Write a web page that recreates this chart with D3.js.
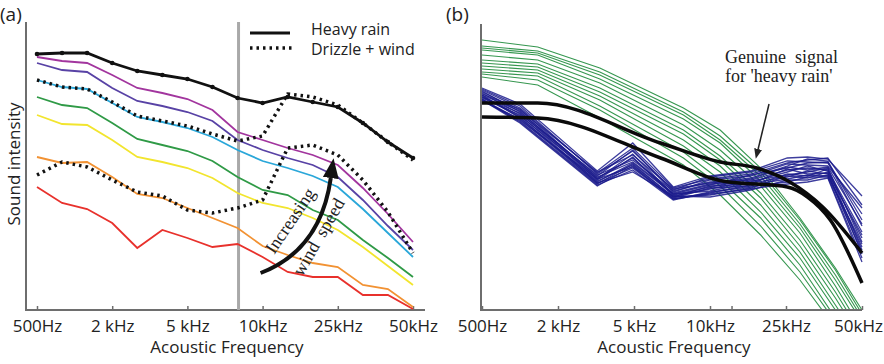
<!DOCTYPE html>
<html>
<head>
<meta charset="utf-8">
<script src="https://cdn.jsdelivr.net/npm/d3@7"></script>
<style>
  body { margin: 0; background: #fff; }
  text { font-family: 'Open Sans', sans-serif; fill: #222; }
  .serif { font-family: 'Liberation Serif', 'DejaVu Serif', serif; }
</style>
</head>
<body>
<svg id="chart" width="884" height="364"></svg>
<script>
// ---- data ----
// frequency bands are indexed 0..15; labelled ticks sit on every third band
const tickBands = [0, 3, 6, 9, 12, 15];
const tickLabels = ['500Hz', '2 kHz', '5 kHz', '10kHz', '25kHz', '50kHz'];

// panel (a): one value per band
const heavyRain   = [256, 257, 257, 247, 239, 235, 231, 223, 212, 207, 213, 208, 203, 187, 168, 152];
const drizzleHigh = [230, 223, 221, 208, 194, 189, 184, 176, 169, 174, 216, 213, 205, 187, 168, 150];
const drizzleLow  = [135, 148, 143, 130, 118, 114, 100, 97, 102, 110, 162, 165, 155, 130, 98, 57];
const windPurple  = [253, 249, 247, 235, 222, 217, 211, 200, 178, 170, 162, 155, 145, 122, 96, 68];
const windIndigo  = [247, 240, 238, 222, 209, 204, 198, 189, 170, 160, 152, 145, 133, 110, 84, 60];
const windCyan    = [230, 223, 221, 207, 193, 188, 182, 173, 160, 149, 142, 134, 123, 101, 77, 53];
const windGreen   = [213, 205, 202, 187, 171, 165, 159, 149, 133, 120, 115, 100, 90, 70, 52, 33];
const windYellow  = [195, 186, 185, 170, 153, 148, 142, 132, 117, 107, 102, 92, 80, 63, 44, 25];
const windOrange  = [153, 147, 148, 133, 116, 112, 102, 92, 82, 64, 55, 47, 43, 25, 21, 3];
const windRed     = [123, 107, 101, 87, 62, 80, 72, 63, 66, 53, 38, 33, 33, 15, 15, 1];
const cutoffBand = 8.04;

// panel (b): runs sampled at their own band positions
const greenBands = [0, 2.2, 4.65, 7.95, 9.4, 11, 12.55, 13.95, 15];
const greenRuns = [
  [270, 263, 242, 202, 180, 142, 92, 42, 0],
  [264, 259, 238, 198, 174, 138, 90, 40, -4],
  [262, 257, 235, 195, 170, 134, 86, 35, -8],
  [260, 255, 231, 191, 167, 129, 82, 30, -12],
  [255, 250, 227, 185, 160, 124, 77, 24, -20],
  [250, 246, 222, 180, 154, 117, 70, 18, -25],
  [247, 243, 218, 176, 150, 112, 64, 12, -30],
  [244, 240, 214, 170, 144, 105, 58, 5, -35],
  [241, 237, 210, 164, 138, 98, 52, 0, -38],
  [238, 234, 204, 158, 130, 92, 45, -8, -42],
  [236, 230, 200, 152, 124, 84, 38, -12, -45],
  [233, 225, 192, 145, 115, 75, 30, -18, -48]
];
const blueBands = [0, 1.5, 4.55, 5.95, 7.55, 9, 10.6, 12.05, 12.85, 13.65, 15];
const blueRuns = [
  [222, 206, 139, 167, 123, 134, 139, 152, 153, 151, 114],
  [220, 202, 137, 162, 122, 131, 136, 147, 150, 152, 105],
  [221, 204, 136, 159, 120, 133, 138, 149, 148, 147, 96],
  [218, 200, 138, 155, 121, 127, 132, 144, 151, 149, 90],
  [219, 198, 134, 160, 118, 130, 134, 146, 145, 144, 102],
  [216, 201, 132, 152, 116, 125, 135, 142, 147, 148, 84],
  [217, 196, 135, 150, 119, 128, 130, 140, 142, 140, 78],
  [215, 199, 131, 156, 115, 123, 131, 143, 140, 143, 86],
  [214, 194, 133, 148, 117, 126, 128, 138, 144, 139, 72],
  [213, 197, 130, 153, 114, 121, 129, 135, 138, 142, 68],
  [215, 192, 129, 145, 113, 124, 126, 141, 136, 137, 75],
  [212, 195, 128, 147, 116, 119, 127, 133, 139, 136, 63],
  [211, 190, 131, 143, 112, 122, 124, 136, 134, 141, 60],
  [213, 193, 127, 142, 111, 117, 125, 131, 135, 134, 66],
  [210, 189, 126, 146, 113, 115, 122, 134, 132, 138, 56],
  [211, 188, 125, 140, 110, 118, 123, 128, 133, 133, 52],
  [209, 191, 127, 138, 114, 113, 120, 130, 130, 135, 58],
  [210, 187, 124, 144, 111, 116, 121, 126, 128, 132, 48]
];
const signalUpperBands = [0, 2.2, 7.05, 9.4, 10.85, 12.15, 13.45, 15];
const signalUpper = [207, 207, 167, 148, 142, 128, 103, 57];
const signalLowerBands = [0, 2.2, 7.05, 9.5, 12.05, 12.85, 13.75, 15];
const signalLower = [193, 192, 152, 129, 123, 113, 90, 27];

// ---- scales ----
const svg = d3.select('#chart');
const xA = d3.scaleLinear().domain([0, 15]).range([37, 413]);
const yA = d3.scaleLinear().domain([0, 288]).range([310, 22]);
const xB = d3.scaleLinear().domain([0, 15]).range([482, 862]);
const yB = d3.scaleLinear().domain([0, 288]).range([310, 22]);

function drawAxes(x, y0, x0, x1, yTop, ticks) {
  const g = svg.append('g').attr('transform', `translate(0,${y0})`);
  g.call(d3.axisBottom(x)
      .tickValues(ticks)
      .tickSize(-4)
      .tickPadding(10)
      .tickFormat(d => {
        const k = tickBands.indexOf(d);
        return k < 0 ? '' : tickLabels[k];
      }));
  g.select('.domain').remove();
  g.selectAll('.tick line').attr('stroke', '#6e6e6e').attr('stroke-width', 1.5);
  g.selectAll('.tick text').style('font-size', '17px').attr('fill', '#222');
  svg.append('path')
    .attr('d', `M${x0},${yTop}V${y0}H${x1}`)
    .attr('fill', 'none').attr('stroke', '#6e6e6e').attr('stroke-width', 2);
  return g;
}

// ---- panel (a) ----
drawAxes(xA, 310, 26, 425, 22, tickBands);

svg.append('line')
  .attr('x1', xA(cutoffBand)).attr('x2', xA(cutoffBand))
  .attr('y1', 22).attr('y2', 310)
  .attr('stroke', '#a9a9a9').attr('stroke-width', 3);

const lineA = d3.line().x((d, i) => xA(i)).y(d => yA(d));
const windLines = [
  [windRed, '#e8312c'], [windOrange, '#f29233'], [windYellow, '#f2e52e'],
  [windGreen, '#2f9a46'], [windCyan, '#2aa7d9'], [windIndigo, '#5842a5'],
  [windPurple, '#a2359e']
];
windLines.forEach(([vals, color]) => {
  svg.append('path').attr('d', lineA(vals))
    .attr('fill', 'none').attr('stroke', color).attr('stroke-width', 1.8);
});

[drizzleHigh, drizzleLow].forEach(vals => {
  svg.append('path').attr('d', lineA(vals))
    .attr('fill', 'none').attr('stroke', '#111').attr('stroke-width', 3.5)
    .attr('stroke-dasharray', '2.5,4');
});

svg.append('path').attr('d', lineA(heavyRain))
  .attr('fill', 'none').attr('stroke', '#111').attr('stroke-width', 2.8);
svg.append('g').selectAll('circle').data(heavyRain).join('circle')
  .attr('cx', (d, i) => xA(i)).attr('cy', d => yA(d)).attr('r', 2.3).attr('fill', '#111');

// legend
svg.append('line').attr('x1', 250).attr('x2', 290).attr('y1', 33).attr('y2', 33)
  .attr('stroke', '#111').attr('stroke-width', 3);
svg.append('line').attr('x1', 250).attr('x2', 294).attr('y1', 48).attr('y2', 48)
  .attr('stroke', '#111').attr('stroke-width', 3.5).attr('stroke-dasharray', '2.5,4');
svg.append('text').attr('x', 311).attr('y', 35).style('font-size', '16px').text('Heavy rain');
svg.append('text').attr('x', 311).attr('y', 55).style('font-size', '16px').text('Drizzle + wind');

// curved arrow "Increasing wind speed"
const defs = svg.append('defs');
defs.append('marker').attr('id', 'head')
  .attr('viewBox', '0 0 20 16').attr('refX', 0).attr('refY', 8)
  .attr('markerWidth', 20).attr('markerHeight', 16)
  .attr('markerUnits', 'userSpaceOnUse').attr('orient', 'auto')
  .append('path').attr('d', 'M0,0L20,8L0,16Z').attr('fill', '#111');
const arrowPath = d3.path();
arrowPath.moveTo(xA(8.92), yA(37));
arrowPath.quadraticCurveTo(xA(11.32), yA(60), xA(11.72), yA(132));
svg.append('path').attr('d', arrowPath.toString())
  .attr('fill', 'none').attr('stroke', '#111').attr('stroke-width', 4)
  .attr('marker-end', 'url(#head)');
svg.append('text').attr('class', 'serif')
  .attr('transform', `translate(${xA(10.3)},${yA(86)}) rotate(-56)`)
  .attr('text-anchor', 'middle').style('font-size', '18px').text('Increasing');
svg.append('text').attr('class', 'serif').attr('xml:space', 'preserve')
  .attr('transform', `translate(${xA(11.44)},${yA(70)}) rotate(-60)`)
  .attr('text-anchor', 'middle').style('font-size', '18px').text('wind  speed');

svg.append('text').attr('transform', 'translate(20,164) rotate(-90)')
  .attr('text-anchor', 'middle').style('font-size', '17px').text('Sound intensity');
svg.append('text').attr('x', 227).attr('y', 353).attr('text-anchor', 'middle')
  .style('font-size', '17px').text('Acoustic Frequency');
svg.append('text').attr('x', 0).attr('y', 21).style('font-size', '19px').text('(a)');

// ---- panel (b) ----
defs.append('clipPath').attr('id', 'clipB')
  .append('rect').attr('x', 481).attr('y', 20).attr('width', 383).attr('height', 290);
const plotB = svg.append('g').attr('clip-path', 'url(#clipB)');

const greenLine = d3.line().x((d, i) => xB(greenBands[i])).y(d => yB(d));
plotB.append('g').selectAll('path').data(greenRuns).join('path')
  .attr('d', greenLine).attr('fill', 'none')
  .attr('stroke', '#1f8b3c').attr('stroke-width', 1.1).attr('stroke-opacity', 0.9);

const blueLine = d3.line().x((d, i) => xB(blueBands[i])).y(d => yB(d));
plotB.append('g').selectAll('path').data(blueRuns).join('path')
  .attr('d', blueLine).attr('fill', 'none')
  .attr('stroke', '#1b1b8c').attr('stroke-width', 1.3).attr('stroke-opacity', 0.85);

const upperLine = d3.line().curve(d3.curveMonotoneX)
  .x((d, i) => xB(signalUpperBands[i])).y(d => yB(d));
const lowerLine = d3.line().curve(d3.curveMonotoneX)
  .x((d, i) => xB(signalLowerBands[i])).y(d => yB(d));
plotB.append('path').attr('d', upperLine(signalUpper))
  .attr('fill', 'none').attr('stroke', '#0a0a0a').attr('stroke-width', 3.5);
plotB.append('path').attr('d', lowerLine(signalLower))
  .attr('fill', 'none').attr('stroke', '#0a0a0a').attr('stroke-width', 3.5);

const axisB = drawAxes(xB, 310, 481, 862, 24, [0, 3, 6, 9, 9.85, 12, 15]);
axisB.selectAll('.tick text').filter(d => d === 15).attr('dx', -4);

// annotation
defs.append('marker').attr('id', 'smallHead')
  .attr('viewBox', '0 0 10 8').attr('refX', 0).attr('refY', 4)
  .attr('markerWidth', 10).attr('markerHeight', 8)
  .attr('markerUnits', 'userSpaceOnUse').attr('orient', 'auto')
  .append('path').attr('d', 'M0,0L10,4L0,8Z').attr('fill', '#222');
svg.append('line')
  .attr('x1', xB(11.33)).attr('y1', yB(206))
  .attr('x2', xB(10.9)).attr('y2', yB(161))
  .attr('stroke', '#222').attr('stroke-width', 1.5)
  .attr('marker-end', 'url(#smallHead)');
svg.append('text').attr('class', 'serif').attr('xml:space', 'preserve')
  .attr('x', 725).attr('y', 63).style('font-size', '18px').text('Genuine  signal');
svg.append('text').attr('class', 'serif')
  .attr('x', 725).attr('y', 82).style('font-size', '18px').text("for 'heavy rain'");

svg.append('text').attr('x', 674).attr('y', 353).attr('text-anchor', 'middle')
  .style('font-size', '17px').text('Acoustic Frequency');
svg.append('text').attr('x', 446).attr('y', 21).style('font-size', '19px').text('(b)');
</script>
</body>
</html>
